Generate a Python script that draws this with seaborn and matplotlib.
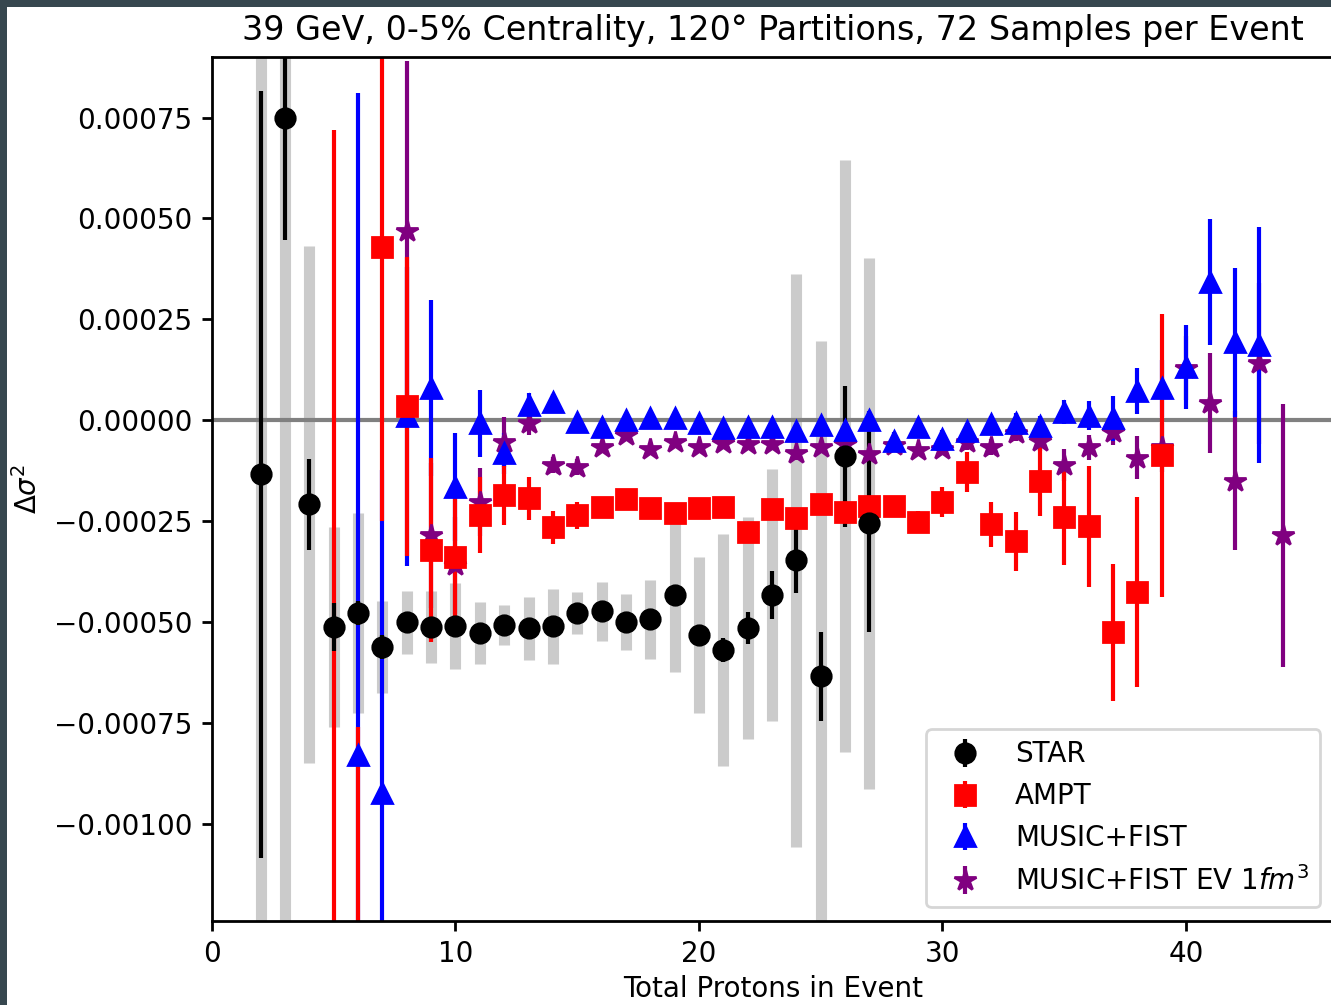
import numpy as np
import pandas as pd
import matplotlib
matplotlib.use("Agg")
import matplotlib.pyplot as plt
from matplotlib.patches import Rectangle
import seaborn as sns

# ---------------- data ----------------
title = "39 GeV, 0-5% Centrality, 120° Partitions, 72 Samples per Event"
x_label = "Total Protons in Event"
y_label = r"$\Delta\sigma^2$"
y_ticks = [0.00075, 0.0005, 0.00025, 0.0, -0.00025, -0.0005, -0.00075, -0.001]
x_ticks = [0, 10, 20, 30, 40]

star_x = list(range(2, 28))
star_y = [-0.000134, 0.000748, -0.000208, -0.000512, -0.000478, -0.000562, -0.000500,
          -0.000512, -0.000510, -0.000527, -0.000507, -0.000515, -0.000510, -0.000478,
          -0.000473, -0.000500, -0.000493, -0.000433, -0.000532, -0.000569, -0.000515,
          -0.000433, -0.000347, -0.000634, -0.000089, -0.000255]
star_err = [0.00095, 0.000302, 0.000113, 0.00006, 0.00003, 0.00003, 0.00002, 0.00002,
            0.00002, 0.00002, 0.00002, 0.00002, 0.00002, 0.00002, 0.00002, 0.00002,
            0.00002, 0.00002, 0.000025, 0.00003, 0.00004, 0.00006, 0.00008, 0.00011,
            0.000175, 0.00027]
star_sys = [0.0013, 0.0021, 0.000641, 0.000248, 0.000248, 0.000114, 0.000078, 0.000089,
            0.000106, 0.000077, 0.00005, 0.000078, 0.000093, 0.000052, 0.000073, 0.00007,
            0.000098, 0.00019, 0.000193, 0.000288, 0.000275, 0.000312, 0.000709, 0.00083,
            0.000733, 0.000657]

ampt_x = list(range(5, 40))
ampt_y = [-0.00135, -0.0019, 0.00043, 0.000035, -0.000322, -0.000339, -0.000235,
          -0.000186, -0.000193, -0.000265, -0.000235, -0.000215, -0.000196, -0.000218,
          -0.00023, -0.000218, -0.000215, -0.000277, -0.00022, -0.000243, -0.000206,
          -0.000227, -0.000212, -0.000213, -0.000252, -0.000203, -0.000128, -0.000257,
          -0.0003, -0.000149, -0.00024, -0.000262, -0.000525, -0.000425, -0.000087]
ampt_err = [0.00207, 0.00114, 0.00068, 0.00037, 0.000228, 0.00015, 0.000094, 0.000074,
            0.000053, 0.00004, 0.000033, 0.000025, 0.00002, 0.00002, 0.000015, 0.000015,
            0.000015, 0.00002, 0.00002, 0.000025, 0.00002, 0.000025, 0.000025, 0.00002,
            0.000028, 0.000037, 0.00005, 0.000056, 0.000072, 0.000089, 0.000119, 0.00015,
            0.00017, 0.000235, 0.00035]

music_x = list(range(6, 44))
music_y = [-0.000829, -0.000923, 0.00001, 0.000079, -0.000166, -0.000007, -0.000082,
           0.000037, 0.000045, -0.000005, -0.000017, 0.0, 0.000005, 0.000007, -0.000007,
           -0.00002, -0.000017, -0.000017, -0.000027, -0.000012, -0.000025, 0.000002,
           -0.00005, -0.000017, -0.000045, -0.000027, -0.00001, -0.000007, -0.000015,
           0.00002, 0.000012, 0.000005, 0.000072, 0.000079, 0.000131, 0.000342, 0.000193,
           0.000186]
music_err = [0.00164, 0.0008, 0.00037, 0.000218, 0.000134, 0.000083, 0.00005, 0.00003,
             0.00002, 0.000015, 0.000015, 0.000015, 0.000015, 0.000015, 0.000015, 0.000015,
             0.000015, 0.000015, 0.000015, 0.000015, 0.000015, 0.00002, 0.00002, 0.00002,
             0.00002, 0.00002, 0.00002, 0.000025, 0.000025, 0.00003, 0.000035, 0.000055,
             0.000057, 0.00007, 0.000104, 0.000156, 0.000184, 0.000292]

ev_x = list(range(8, 45))
ev_y = [0.00047, -0.000285, -0.000359, -0.000203, -0.000054, -0.000007, -0.000111,
        -0.000116, -0.000067, -0.000037, -0.000072, -0.000054, -0.000067, -0.000057,
        -0.000059, -0.000059, -0.000082, -0.000067, -0.000059, -0.000084, -0.000062,
        -0.000074, -0.00007, -0.000054, -0.000067, -0.000032, -0.000052, -0.000111,
        -0.000067, -0.00003, -0.000092, -0.000067, 0.00013, 0.000042, -0.000149,
        0.000141, -0.000285]
ev_err = [0.00042, 0.00018, 0.00012, 0.000084, 0.000062, 0.00003, 0.00002, 0.00002,
          0.000015, 0.000015, 0.000015, 0.000015, 0.000015, 0.000015, 0.000015, 0.000015,
          0.000015, 0.000015, 0.000015, 0.000015, 0.000015, 0.000015, 0.000015, 0.00002,
          0.00002, 0.00002, 0.000025, 0.00004, 0.00003, 0.00003, 0.000053, 0.00006,
          0.00008, 0.000124, 0.000173, 0.0002, 0.000326]

series_names = ["STAR", "AMPT", "MUSIC+FIST", r"MUSIC+FIST EV $1fm^3$"]
series_colors = ["black", "red", "blue", "purple"]
series_markers = ["o", "s", "^", "*"]

frames = []
for name, xs, ys, es in zip(series_names,
                            [star_x, ampt_x, music_x, ev_x],
                            [star_y, ampt_y, music_y, ev_y],
                            [star_err, ampt_err, music_err, ev_err]):
    frames.append(pd.DataFrame({"series": name, "x": xs, "y": ys, "err": es}))
df = pd.concat(frames, ignore_index=True)
sys_df = pd.DataFrame({"x": star_x, "y": star_y, "sys": star_sys})

# ---------------- style ----------------
sns.set_style("ticks")
plt.rcParams.update({
    "font.family": ["DejaVu Sans"],
    "axes.edgecolor": "black",
    "xtick.color": "black",
    "ytick.color": "black",
    "text.color": "black",
    "axes.labelcolor": "black",
    "font.size": 10,
    "axes.linewidth": 1.0,
    "xtick.major.width": 1.0,
    "ytick.major.width": 1.0,
    "xtick.major.size": 3.5,
    "ytick.major.size": 3.5,
    "xtick.labelsize": 10,
    "ytick.labelsize": 10,
    "axes.labelsize": 10,
    "axes.titlesize": 12,
    "legend.fontsize": 10,
    "mathtext.fontset": "dejavusans",
})

DPI = 200
fig = plt.figure(figsize=(1331 / DPI, 1005 / DPI), dpi=DPI)
fig.patch.set_facecolor("#37474f")
fig.add_artist(Rectangle((7 / 1331, 0), 1 - 7 / 1331, 1 - 7 / 1005,
                         transform=fig.transFigure, facecolor="white",
                         edgecolor="none", zorder=-5))
ax = fig.add_axes([212 / 1331, 84 / 1005, 1122 / 1331, 864 / 1005])

# systematic uncertainty bars for STAR
ax.vlines(sys_df["x"], sys_df["y"] - sys_df["sys"], sys_df["y"] + sys_df["sys"],
          color="#cbcbcb", linewidth=4.0, zorder=1)
ax.axhline(0, color="gray", linewidth=1.5, zorder=1.5)

handles = {}
draw_order = [3, 2, 1, 0]
for i in draw_order:
    name = series_names[i]
    d = df[df["series"] == name]
    h = ax.errorbar(d["x"], d["y"], yerr=d["err"], fmt=series_markers[i],
                    color=series_colors[i], markersize=7 if series_markers[i] != "*" else 8,
                    elinewidth=1.5, label=name)
    handles[name] = h

ax.set_xlim(0, 46.08)
ax.set_ylim(-0.00124, 0.0009)
ax.set_xticks(x_ticks)
ax.set_yticks(y_ticks)
ax.set_xlabel(x_label, labelpad=2.5)
ax.set_ylabel(y_label)
ax.set_title(title)
ax.legend([handles[n] for n in series_names], series_names, loc="lower right")

fig.savefig("out.png", dpi=DPI, facecolor=fig.get_facecolor())
